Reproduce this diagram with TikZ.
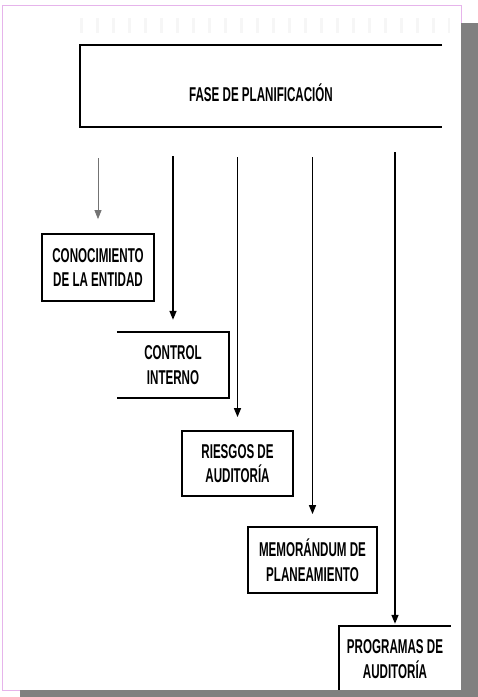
\documentclass[tikz,border=0pt]{standalone}
\usepackage{fontspec}
\newfontfamily\estrecha[FakeStretch=0.58,BoldFont={Liberation Sans Bold}]{Liberation Sans}
\usetikzlibrary{arrows.meta,positioning,calc}
\definecolor{bordeRosa}{HTML}{E6B4EB}
\definecolor{sombra}{HTML}{808080}

\begin{document}
\begin{tikzpicture}[x=1pt,y=-1pt,
    caja/.style={align=center,inner sep=0pt,font=\estrecha\bfseries\fontsize{20}{24.5}\selectfont},
    borde/.style={line width=1.8pt},
    flecha/.style={-{Triangle[length=9pt,width=7pt]},line width=1.5pt}]
      \useasboundingbox (0,0) rectangle (478,697);
      % hoja
      \draw[bordeRosa,fill=white,line width=1pt] (2,5) rectangle (461,690);
      \draw[gray!7,line width=15pt,dash pattern=on 3pt off 13pt] (80,25) -- (450,25);
      % caja principal, abierta a la derecha
      \node[caja,minimum width=362pt,minimum height=82pt,text height=30pt,text depth=0pt] (fase) at (261,86)
        {FASE DE PLANIFICACIÓN};
      \draw[borde] (fase.north east) -- (fase.north west) -- (fase.south west) -- (fase.south east);
      \node[caja,draw,borde,minimum width=112pt,minimum height=67pt] (conoc) at (98,267.5)
        {CONOCIMIENTO\\DE LA ENTIDAD};
      \node[caja,minimum width=112pt,minimum height=66pt] (control) at (173,365)
        {CONTROL\\INTERNO};
      \draw[borde] (control.north west) -- (control.north east) -- (control.south east) -- (control.south west);
      \node[caja,draw,borde,minimum width=111pt,minimum height=65pt] (riesgos) at (237.5,463.5)
        {RIESGOS DE\\AUDITORÍA};
      \node[caja,draw,borde,minimum width=129pt,minimum height=66pt] (memo) at (312.5,560)
        {MEMORÁNDUM DE\\PLANEAMIENTO};
      \node[caja,minimum width=112pt,minimum height=66pt] (progr) at (395,659)
        {PROGRAMAS DE\\AUDITORÍA};
      \draw[borde] (progr.south west) -- (progr.north west) -- (progr.north east);
      % flechas
      \draw[flecha,black!55,line width=0.8pt,shorten <=31pt,shorten >=14pt] (fase.south -| conoc.north) -- (conoc.north);
      \draw[flecha,shorten <=29pt,shorten >=12pt] (fase.south -| control.north) -- (control.north);
      \draw[flecha,shorten <=30pt,shorten >=13pt] (fase.south -| riesgos.north) -- (riesgos.north);
      \draw[flecha,shorten <=30pt,shorten >=12pt] (fase.south -| memo.north) -- (memo.north);
      \draw[flecha,shorten <=25pt,shorten >=2pt] (fase.south -| progr.north) -- (progr.north);
      % sombra
      \fill[sombra] (461,23) rectangle (478,697);
      \fill[sombra] (20,690) rectangle (478,697);
    \end{tikzpicture}
\end{document}
